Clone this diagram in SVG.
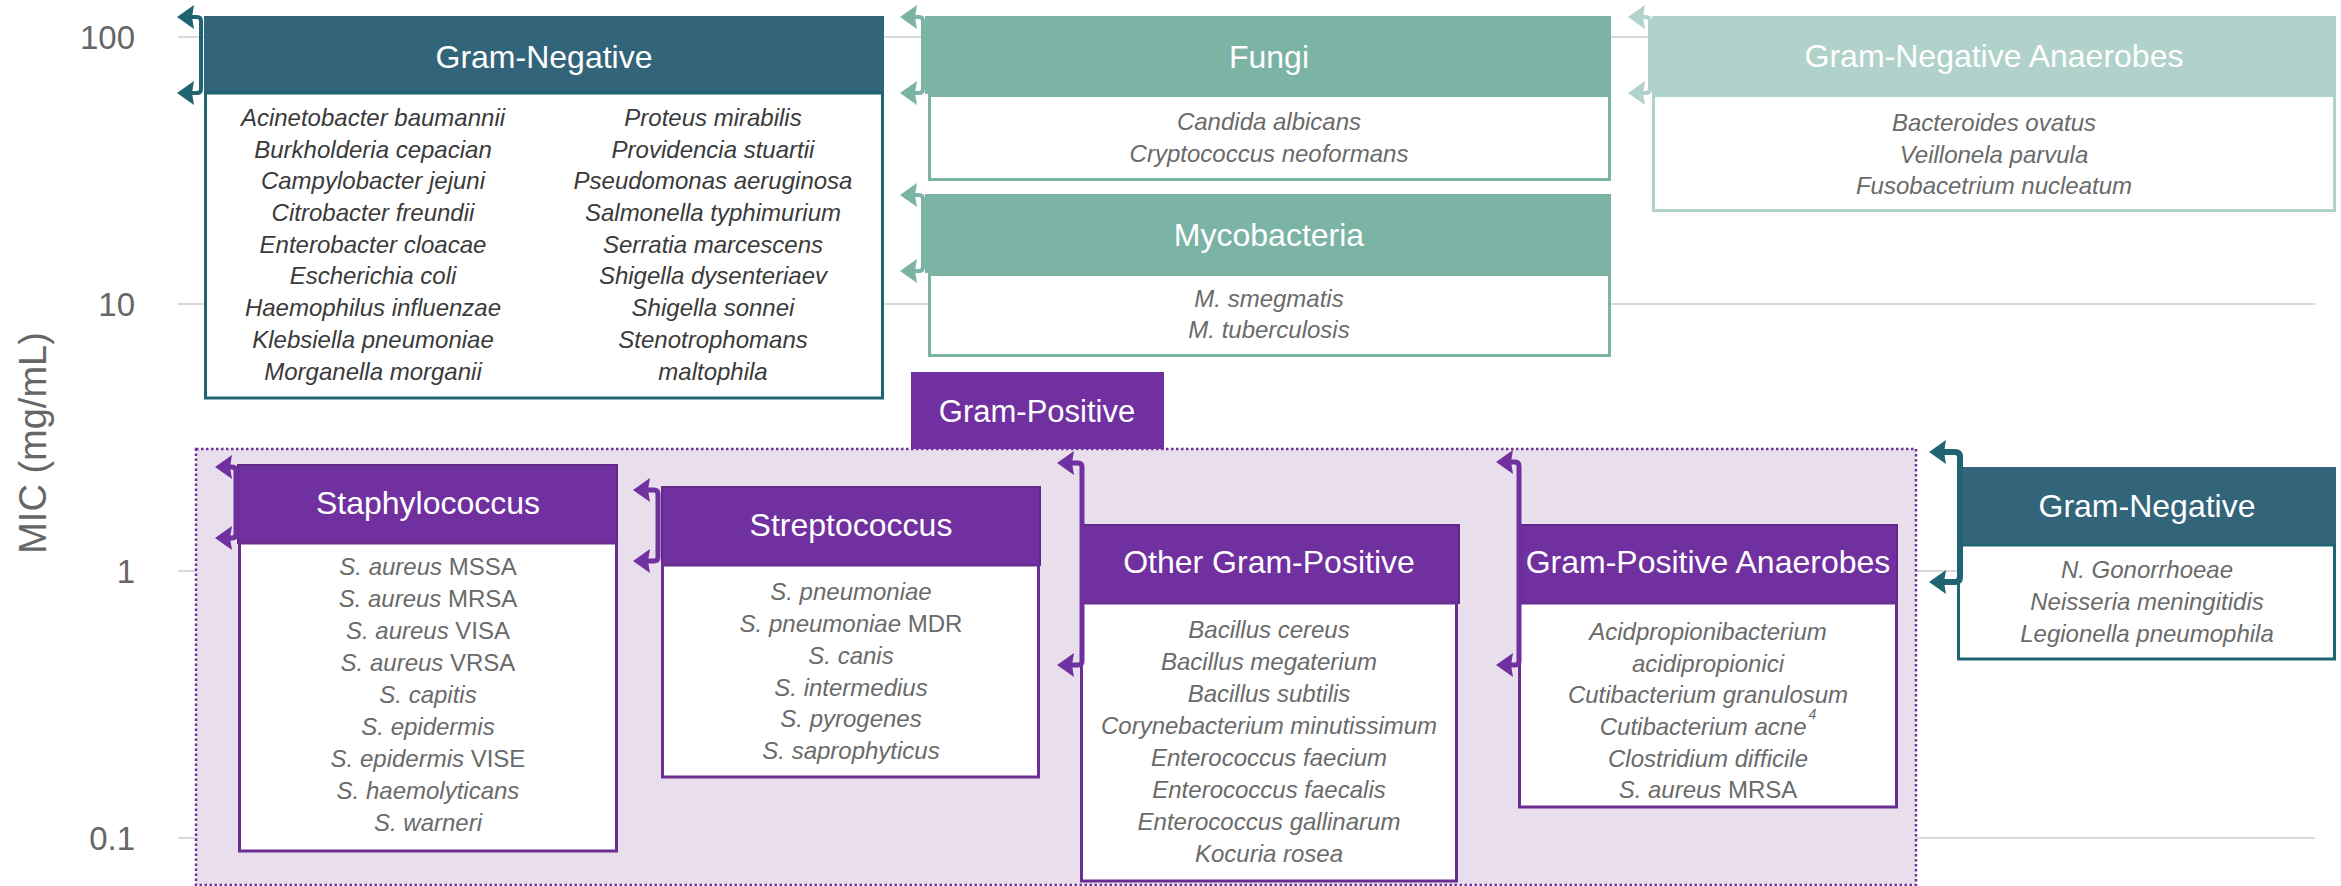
<svg xmlns="http://www.w3.org/2000/svg" xmlns:xlink="http://www.w3.org/1999/xlink" width="2341" height="886" viewBox="0 0 2341 886">
<style>
text{font-family:"Liberation Sans",Arial,sans-serif}
.tick{font-size:33px;fill:#666666;text-anchor:end}
.axis{font-size:38px;fill:#666666;text-anchor:middle}
.ttl{font-size:32px;fill:#ffffff;text-anchor:middle}
.sp{font-size:24px;fill:#6a6a6a;text-anchor:middle;font-style:italic}
.spd{fill:#3a3a3a}
.up{font-style:normal}
.grid{stroke:#d9d9d9;stroke-width:2}
.hgn{fill:#33657a}
.bgn{fill:#ffffff;stroke:#1f6470;stroke-width:3}
.hfu{fill:#7bb3a5}
.bfu{fill:#ffffff;stroke:#7bb3a5;stroke-width:3}
.han{fill:#b1d2ca}
.ban{fill:#ffffff;stroke:#b1d2ca;stroke-width:3}
.hgp{fill:#7030a0;stroke:#5e2a85;stroke-width:2}
.bgp{fill:#ffffff;stroke:#6a2d90;stroke-width:3}
.con{fill:none;stroke-linejoin:round}
.c-gn{stroke:#1f6470;stroke-width:4}
.c-fu{stroke:#7bb3a5;stroke-width:4}
.c-an{stroke:#b1d2ca;stroke-width:4}
.c-gp{stroke:#7030a0;stroke-width:5}
.f-gn{fill:#1f6470}
.f-fu{fill:#7bb3a5}
.f-an{fill:#b1d2ca}
.f-gp{fill:#7030a0}
</style>
<defs>
<path id="ah" d="M0,0 L17,-12 L15,0 L17,12 Z"/>
</defs>

<g id="axis">
<line class="grid" x1="178" y1="37" x2="2315" y2="37"/>
<line class="grid" x1="178" y1="304" x2="2315" y2="304"/>
<line class="grid" x1="178" y1="571" x2="2315" y2="571"/>
<line class="grid" x1="178" y1="838" x2="2315" y2="838"/>
<text class="tick" x="135" y="49">100</text>
<text class="tick" x="135" y="316">10</text>
<text class="tick" x="135" y="583">1</text>
<text class="tick" x="135" y="850">0.1</text>
<text class="axis" transform="translate(46,443) rotate(-90)">MIC (mg/mL)</text>
</g>

<g id="gram-positive-region">
<rect x="196" y="449" width="1720" height="436" fill="#e9dfec" stroke="#7030a0" stroke-width="2.5" stroke-dasharray="2.5 2.5"/>
</g>

<g id="gram-positive-label">
<rect x="911" y="372" width="253" height="77" fill="#7030a0"/>
<text class="ttl" x="1037" y="422" style="font-size:31px">Gram-Positive</text>
</g>

<g id="gram-negative">
<rect class="hgn" x="204" y="16" width="680" height="77"/>
<rect class="bgn" x="205.5" y="93" width="677" height="305"/>
<text class="ttl" x="544" y="68">Gram-Negative</text>
<text class="sp spd" x="373" y="126">Acinetobacter baumannii</text>
<text class="sp spd" x="373" y="158">Burkholderia cepacian</text>
<text class="sp spd" x="373" y="189">Campylobacter jejuni</text>
<text class="sp spd" x="373" y="221">Citrobacter freundii</text>
<text class="sp spd" x="373" y="253">Enterobacter cloacae</text>
<text class="sp spd" x="373" y="284">Escherichia coli</text>
<text class="sp spd" x="373" y="316">Haemophilus influenzae</text>
<text class="sp spd" x="373" y="348">Klebsiella pneumoniae</text>
<text class="sp spd" x="373" y="380">Morganella morganii</text>
<text class="sp spd" x="713" y="126">Proteus mirabilis</text>
<text class="sp spd" x="713" y="158">Providencia stuartii</text>
<text class="sp spd" x="713" y="189">Pseudomonas aeruginosa</text>
<text class="sp spd" x="713" y="221">Salmonella typhimurium</text>
<text class="sp spd" x="713" y="253">Serratia marcescens</text>
<text class="sp spd" x="713" y="284">Shigella dysenteriaev</text>
<text class="sp spd" x="713" y="316">Shigella sonnei</text>
<text class="sp spd" x="713" y="348">Stenotrophomans</text>
<text class="sp spd" x="713" y="380">maltophila</text>
</g>

<g id="fungi">
<rect class="hfu" x="925" y="16" width="686" height="78"/>
<rect class="bfu" x="929.5" y="95.5" width="680" height="84"/>
<text class="ttl" x="1269" y="68">Fungi</text>
<text class="sp" x="1269" y="130">Candida albicans</text>
<text class="sp" x="1269" y="162">Cryptococcus neoformans</text>
</g>

<g id="mycobacteria">
<rect class="hfu" x="925" y="194" width="686" height="79"/>
<rect class="bfu" x="929.5" y="274.5" width="680" height="81"/>
<text class="ttl" x="1269" y="246">Mycobacteria</text>
<text class="sp" x="1269" y="307">M. smegmatis</text>
<text class="sp" x="1269" y="338">M. tuberculosis</text>
</g>

<g id="gram-negative-anaerobes">
<rect class="han" x="1652" y="16" width="684" height="78"/>
<rect class="ban" x="1653.5" y="95.5" width="681" height="115"/>
<text class="ttl" x="1994" y="67">Gram-Negative Anaerobes</text>
<text class="sp" x="1994" y="131">Bacteroides ovatus</text>
<text class="sp" x="1994" y="163">Veillonela parvula</text>
<text class="sp" x="1994" y="194">Fusobacetrium nucleatum</text>
</g>

<g id="staphylococcus">
<rect class="hgp" x="238" y="465" width="379" height="78"/>
<rect class="bgp" x="239.5" y="543" width="377" height="308"/>
<text class="ttl" x="428" y="514">Staphylococcus</text>
<text class="sp" x="428" y="575">S. aureus <tspan class="up">MSSA</tspan></text>
<text class="sp" x="428" y="607">S. aureus <tspan class="up">MRSA</tspan></text>
<text class="sp" x="428" y="639">S. aureus <tspan class="up">VISA</tspan></text>
<text class="sp" x="428" y="671">S. aureus <tspan class="up">VRSA</tspan></text>
<text class="sp" x="428" y="703">S. capitis</text>
<text class="sp" x="428" y="735">S. epidermis</text>
<text class="sp" x="428" y="767">S. epidermis <tspan class="up">VISE</tspan></text>
<text class="sp" x="428" y="799">S. haemolyticans</text>
<text class="sp" x="428" y="831">S. warneri</text>
</g>

<g id="streptococcus">
<rect class="hgp" x="662" y="487" width="378" height="78"/>
<rect class="bgp" x="662.5" y="565" width="376" height="212"/>
<text class="ttl" x="851" y="536">Streptococcus</text>
<text class="sp" x="851" y="600">S. pneumoniae</text>
<text class="sp" x="851" y="632">S. pneumoniae <tspan class="up">MDR</tspan></text>
<text class="sp" x="851" y="664">S. canis</text>
<text class="sp" x="851" y="696">S. intermedius</text>
<text class="sp" x="851" y="727">S. pyrogenes</text>
<text class="sp" x="851" y="759">S. saprophyticus</text>
</g>

<g id="other-gram-positive">
<rect class="hgp" x="1083" y="525" width="376" height="78"/>
<rect class="bgp" x="1081.5" y="603" width="375" height="278"/>
<text class="ttl" x="1269" y="573">Other Gram-Positive</text>
<text class="sp" x="1269" y="638">Bacillus cereus</text>
<text class="sp" x="1269" y="670">Bacillus megaterium</text>
<text class="sp" x="1269" y="702">Bacillus subtilis</text>
<text class="sp" x="1269" y="734">Corynebacterium minutissimum</text>
<text class="sp" x="1269" y="766">Enterococcus faecium</text>
<text class="sp" x="1269" y="798">Enterococcus faecalis</text>
<text class="sp" x="1269" y="830">Enterococcus gallinarum</text>
<text class="sp" x="1269" y="862">Kocuria rosea</text>
</g>

<g id="gram-positive-anaerobes">
<rect class="hgp" x="1521" y="525" width="376" height="78"/>
<rect class="bgp" x="1519.5" y="603" width="377" height="204"/>
<text class="ttl" x="1708" y="573">Gram-Positive Anaerobes</text>
<text class="sp" x="1708" y="640">Acidpropionibacterium</text>
<text class="sp" x="1708" y="672">acidipropionici</text>
<text class="sp" x="1708" y="703">Cutibacterium granulosum</text>
<text class="sp" x="1708" y="735">Cutibacterium acne<tspan font-size="14" dx="2" dy="-16">4</tspan></text>
<text class="sp" x="1708" y="767">Clostridium difficile</text>
<text class="sp" x="1708" y="798">S. aureus <tspan class="up">MRSA</tspan></text>
</g>

<g id="gram-negative-right">
<rect class="hgn" x="1962" y="467" width="374" height="78"/>
<rect class="bgn" x="1958.5" y="545" width="376" height="114"/>
<text class="ttl" x="2147" y="517">Gram-Negative</text>
<text class="sp" x="2147" y="578">N. Gonorrhoeae</text>
<text class="sp" x="2147" y="610">Neisseria meningitidis</text>
<text class="sp" x="2147" y="642">Legionella pneumophila</text>
</g>

<g id="connectors">
<path class="con c-gn" d="M191,17 H197 Q201,17 201,21 V89 Q201,93 197,93 H191"/>
<use href="#ah" xlink:href="#ah" class="f-gn" x="177" y="17"/>
<use href="#ah" xlink:href="#ah" class="f-gn" x="177" y="93"/>

<path class="con c-fu" d="M914,17 H919 Q923,17 923,21 V89 Q923,93 919,93 H914"/>
<use href="#ah" xlink:href="#ah" class="f-fu" x="900" y="17"/>
<use href="#ah" xlink:href="#ah" class="f-fu" x="900" y="93"/>

<path class="con c-fu" d="M914,195 H919 Q923,195 923,199 V267 Q923,271 919,271 H914"/>
<use href="#ah" xlink:href="#ah" class="f-fu" x="900" y="195"/>
<use href="#ah" xlink:href="#ah" class="f-fu" x="900" y="271"/>

<path class="con c-an" d="M1642,17 H1646 Q1650,17 1650,21 V89 Q1650,93 1646,93 H1642"/>
<use href="#ah" xlink:href="#ah" class="f-an" x="1628" y="17"/>
<use href="#ah" xlink:href="#ah" class="f-an" x="1628" y="93"/>

<path class="con c-gp" d="M229,467 H232 Q236,467 236,471 V534 Q236,538 232,538 H229"/>
<use href="#ah" xlink:href="#ah" class="f-gp" x="215" y="467"/>
<use href="#ah" xlink:href="#ah" class="f-gp" x="215" y="538"/>

<path class="con c-gp" d="M647,490 H654 Q658,490 658,494 V557 Q658,561 654,561 H647"/>
<use href="#ah" xlink:href="#ah" class="f-gp" x="633" y="490"/>
<use href="#ah" xlink:href="#ah" class="f-gp" x="633" y="561"/>

<path class="con c-gp" d="M1071,463 H1078 Q1082,463 1082,467 V661 Q1082,665 1078,665 H1071"/>
<use href="#ah" xlink:href="#ah" class="f-gp" x="1057" y="463"/>
<use href="#ah" xlink:href="#ah" class="f-gp" x="1057" y="665"/>

<path class="con c-gp" d="M1510,462 H1515 Q1519,462 1519,466 V661 Q1519,665 1515,665 H1510"/>
<use href="#ah" xlink:href="#ah" class="f-gp" x="1496" y="462"/>
<use href="#ah" xlink:href="#ah" class="f-gp" x="1496" y="665"/>

<path class="con c-gn" style="stroke-width:6" d="M1943,452 H1955 Q1960,452 1960,457 V577 Q1960,582 1955,582 H1943"/>
<use href="#ah" xlink:href="#ah" class="f-gn" x="1929" y="452"/>
<use href="#ah" xlink:href="#ah" class="f-gn" x="1929" y="582"/>
</g>
</svg>
